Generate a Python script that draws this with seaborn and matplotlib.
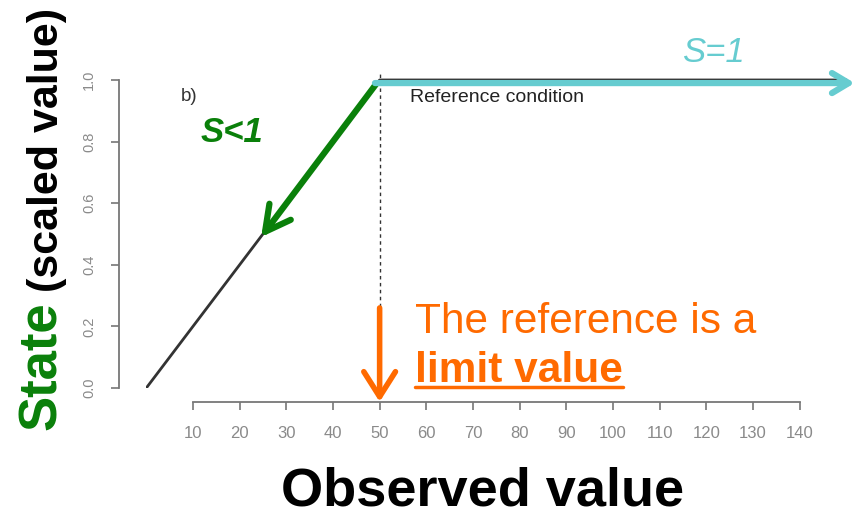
import matplotlib
matplotlib.use("Agg")
import matplotlib.pyplot as plt
import seaborn as sns
import pandas as pd
from matplotlib.ticker import FormatStrFormatter
from matplotlib.lines import Line2D

# dados da curva de estado (valor observado -> estado escalado)
obs_x = [0, 50, 150]
state_y = [0.0, 1.0, 1.0]
ref_value = 50
x_ticks = [10, 20, 30, 40, 50, 60, 70, 80, 90, 100, 110, 120, 130, 140]
y_ticks = [0.0, 0.2, 0.4, 0.6, 0.8, 1.0]

VERDE = '#0a800a'
CIANO = '#66ccd0'
LARANJA = '#ff6a00'

sns.set_theme(style='white')
plt.rcParams['font.family'] = ['Liberation Sans', 'DejaVu Sans']

fig = plt.figure(figsize=(8.59, 5.15), dpi=100)
ax = fig.add_axes([0.1703, 0.2466, 0.8258, 0.6579])

df = pd.DataFrame({'obs': obs_x, 'state': state_y})
sns.lineplot(data=df, x='obs', y='state', ax=ax, color='#333333', lw=2)

ax.set_xlim(0, 152)
ax.set_ylim(0, 1.1)

# eixos no estilo R (destacados)
for lado in ['top', 'right']:
    ax.spines[lado].set_visible(False)
ax.spines['left'].set_position(('outward', 20))
ax.spines['bottom'].set_position(('outward', 10))
ax.spines['left'].set_bounds(0, 1)
ax.spines['bottom'].set_bounds(10, 140)
for lado in ['left', 'bottom']:
    ax.spines[lado].set_color('#777777')
    ax.spines[lado].set_linewidth(1.3)

ax.set_xticks(x_ticks)
ax.set_yticks(y_ticks)
ax.yaxis.set_major_formatter(FormatStrFormatter('%.1f'))
ax.tick_params(axis='both', direction='out', length=6, width=1.2, color='#777777',
               labelcolor='#8a8a8a', bottom=True, left=True)
ax.tick_params(axis='x', labelsize=12, pad=11)
ax.tick_params(axis='y', labelsize=10.5, pad=10, labelrotation=90)
for lbl in ax.get_yticklabels():
    lbl.set_va('center')
ax.set_xlabel('')
ax.set_ylabel('')

# linha de referência
ax.vlines(ref_value, -0.03, 1.026, colors='#333333', linestyles=(0, (2.5, 2.5)), lw=1)

ax.text(7.4, 0.945, 'b)', fontsize=13.5, color='#333333', ha='left', va='center')
ax.text(56.5, 0.942, 'Reference condition', fontsize=14, color='#222222',
        ha='left', va='center')

# setas
ax.annotate('', xy=(24.6, 0.49), xytext=(49.4, 0.99), annotation_clip=False,
            arrowprops=dict(arrowstyle='->,head_length=1.5,head_width=0.8',
                            color=VERDE, lw=4.5, shrinkA=0, shrinkB=0))
ax.annotate('', xy=(151.8, 0.99), xytext=(49, 0.99), annotation_clip=False,
            arrowprops=dict(arrowstyle='->,head_length=1.0,head_width=0.6',
                            color=CIANO, lw=4.5, shrinkA=0, shrinkB=0))
ax.annotate('', xy=(ref_value, -0.045), xytext=(ref_value, 0.26), annotation_clip=False,
            arrowprops=dict(arrowstyle='->,head_length=1.5,head_width=0.95',
                            color=LARANJA, lw=4, shrinkA=0, shrinkB=0))

ax.text(18.4, 0.83, 'S<1', fontsize=25, color=VERDE, fontweight='bold',
        fontstyle='italic', ha='center', va='center')
ax.text(121.6, 1.088, 'S=1', fontsize=25, color=CIANO, fontstyle='italic',
        ha='center', va='center', clip_on=False)

ax.text(57.6, 0.179, 'The reference is a', fontsize=30.5, color=LARANJA,
        ha='left', va='baseline')
limite = ax.text(57.6, 0.019, 'limit value', fontsize=30.5, color=LARANJA,
                 fontweight='bold', ha='left', va='baseline')

# títulos dos eixos
fig.text(0.5623, 10 / 515, 'Observed value', fontsize=39, fontweight='bold',
         color='black', ha='center', va='baseline')
fig.text(56 / 859, 1 - 430 / 515, 'State', fontsize=38, fontweight='bold', color=VERDE,
         rotation=90, rotation_mode='anchor', ha='left', va='baseline')
fig.text(58 / 859, 1 - 292 / 515, '(scaled value)', fontsize=31, fontweight='bold',
         color='black', rotation=90, rotation_mode='anchor', ha='left', va='baseline')

# sublinhado do "limit value"
fig.canvas.draw()
bb = limite.get_window_extent()
y_base = ax.transData.transform((0, 0.019))[1]
fig.add_artist(Line2D([bb.x0, bb.x1], [y_base - 5, y_base - 5], transform=None,
                      color=LARANJA, lw=2.5))

fig.savefig('out.png', dpi=100)
